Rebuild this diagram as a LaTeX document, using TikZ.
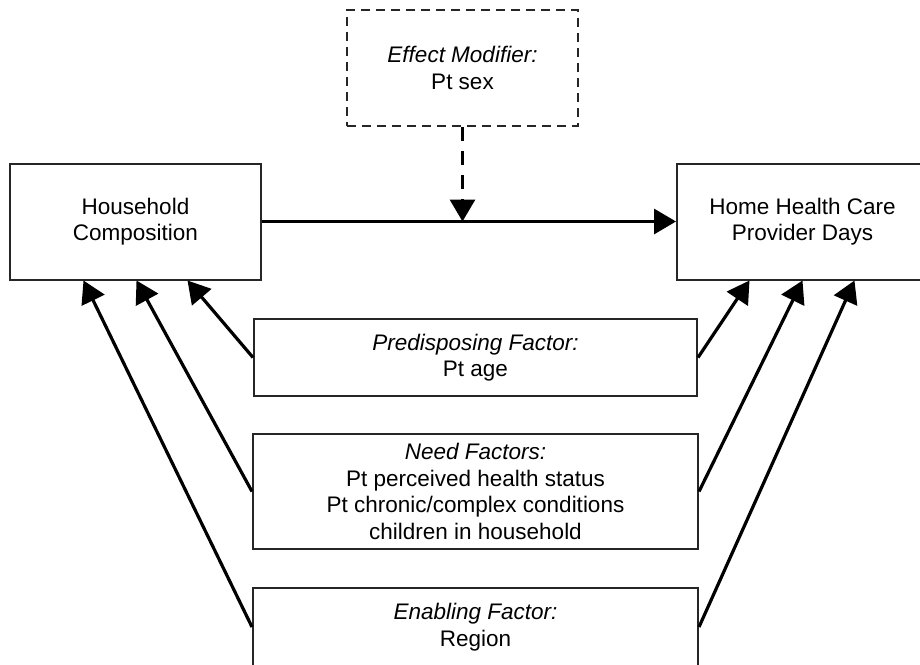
\documentclass[tikz,border=0pt]{standalone}
\usepackage{fontspec}
\setmainfont{Liberation Sans}
\usetikzlibrary{arrows.meta}
\begin{document}
\begin{tikzpicture}[x=1pt,y=-1pt,
  box/.style={draw=black!85, line width=2pt, fill=white, align=center, inner sep=0pt,
    font=\fontsize{22.5}{26.5}\selectfont},
  conn/.style={draw=black, line width=3.2pt, -{Triangle[length=22pt,width=25pt]}},
  dconn/.style={conn, dash pattern=on 14pt off 10pt}
]
\useasboundingbox (0,0) rectangle (920,664);
\clip (0,0) rectangle (920,664);
\node[box, dashed, dash pattern=on 9pt off 6pt, minimum width=231pt, minimum height=116pt] (em) at (462.5,68) {\textit{Effect Modifier:}\\Pt sex};
\node[box, minimum width=251pt, minimum height=116pt] (hc) at (135.5,221.5) {Household\\Composition};
\node[box, minimum width=251pt, minimum height=116pt] (hh) at (802.5,221.5) {Home Health Care\\Provider Days};
\node[box, minimum width=443pt, minimum height=77pt] (pre) at (475.5,357.5) {\textit{Predisposing Factor:}\\Pt age};
\node[box, minimum width=445pt, minimum height=115pt] (need) at (475.5,491.5) {\textit{Need Factors:}\\Pt perceived health status\\Pt chronic/complex conditions\\children in household};
\node[box, minimum width=445pt, minimum height=78pt] (en) at (475.5,627) {\textit{Enabling Factor:}\\Region};

\draw[conn] (hc.east) -- (hh.west);
\coordinate (mid) at (em.south |- hc.east);
\draw[dconn] (em.south) -- (mid);

\coordinate (l1) at ([xshift=52pt]hc.south);
\coordinate (l2) at ([xshift=1pt]hc.south);
\coordinate (l3) at ([xshift=-52pt]hc.south);
\coordinate (r1) at ([xshift=-53pt]hh.south);
\coordinate (r2) at ([xshift=0pt]hh.south);
\coordinate (r3) at ([xshift=52pt]hh.south);

\draw[conn] (pre.west) -- (l1);
\draw[conn] (need.west) -- (l2);
\draw[conn] (en.west) -- (l3);
\draw[conn] (pre.east) -- (r1);
\draw[conn] (need.east) -- (r2);
\draw[conn] (en.east) -- (r3);
\end{tikzpicture}
\end{document}
